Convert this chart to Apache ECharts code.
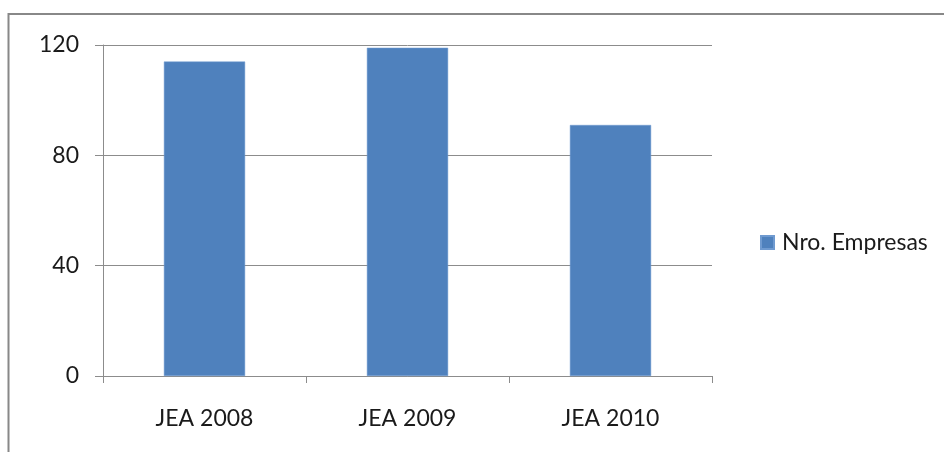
<!DOCTYPE html>
<html>
<head>
<meta charset="utf-8">
<script src="https://cdn.jsdelivr.net/npm/echarts@6/dist/echarts.min.js"></script>
<style>
  html, body { margin: 0; padding: 0; background: #fff; }
  #chart { width: 944px; height: 452px; }
</style>
</head>
<body>
<div id="chart"></div>
<script>
// Number of companies per JEA edition
const categories = ['JEA 2008', 'JEA 2009', 'JEA 2010'];
const empresas = [114, 119, 91];
const yTicks = [0, 40, 80, 120];
const seriesName = 'Nro. Empresas';

const chart = echarts.init(document.getElementById('chart'));
const font = 'Lato, "Open Sans", sans-serif';
const axisGray = '#8c8c8c';

chart.setOption({
  animation: false,
  backgroundColor: '#ffffff',
  graphic: [{
    type: 'rect',
    shape: { x: 8.5, y: 14, width: 1000, height: 500 },
    style: { fill: 'none', stroke: '#888888', lineWidth: 2 },
    silent: true
  }],
  legend: {
    data: [seriesName],
    left: 755,
    top: 226,
    orient: 'vertical',
    icon: 'rect',
    itemWidth: 13,
    itemHeight: 13,
    itemGap: 10,
    textStyle: { fontFamily: font, fontSize: 23, color: '#1a1a1a', padding: [0, 0, 0, 3] }
  },
  grid: { left: 103, right: 232, top: 45, bottom: 76, containLabel: false },
  xAxis: {
    type: 'category',
    data: categories,
    axisLine: { show: true, lineStyle: { color: axisGray, width: 1 } },
    axisTick: { show: true, length: 7, alignWithLabel: false, lineStyle: { color: axisGray } },
    axisLabel: { fontFamily: font, fontSize: 23, color: '#1a1a1a', margin: 31 }
  },
  yAxis: {
    type: 'value',
    min: yTicks[0],
    max: yTicks[yTicks.length - 1],
    interval: yTicks[1] - yTicks[0],
    axisLine: { show: true, lineStyle: { color: axisGray, width: 1 } },
    axisTick: { show: true, length: 8, lineStyle: { color: axisGray } },
    axisLabel: { fontFamily: font, fontSize: 23, color: '#1a1a1a', margin: 24 },
    splitLine: { show: true, lineStyle: { color: axisGray, width: 1 } }
  },
  series: [{
    name: seriesName,
    type: 'bar',
    data: empresas,
    barWidth: '40%',
    itemStyle: { color: '#4F81BD', borderColor: '#6f9ad0', borderWidth: 0.5 }
  }]
});
</script>
</body>
</html>
